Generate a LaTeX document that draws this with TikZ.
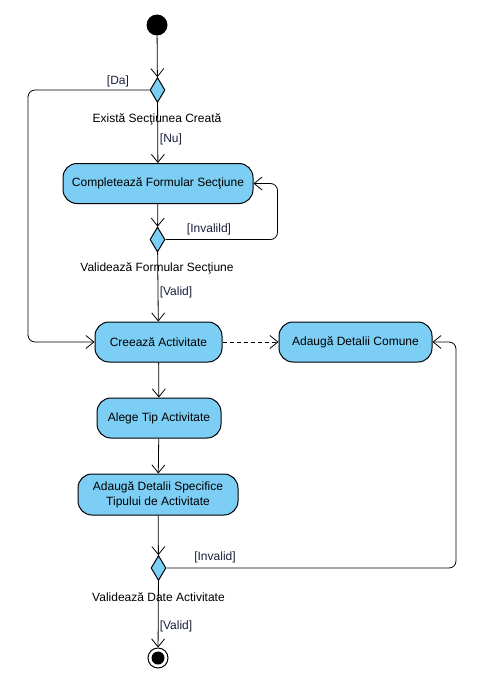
\documentclass[tikz,border=0pt]{standalone}
\usepackage{fontspec}
\setmainfont{Liberation Sans}
\usetikzlibrary{arrows.meta,shapes.geometric}
\definecolor{actfill}{RGB}{125,206,244}
\definecolor{guardcol}{RGB}{25,30,60}
\tikzset{
  act/.style={draw=black, line width=1pt, fill=actfill, rounded corners=14pt, minimum height=40pt, inner sep=0pt, align=center, font=\fontsize{12pt}{15pt}\selectfont},
  dec/.style={draw=black, line width=1pt, fill=actfill, diamond, inner sep=0pt, minimum width=15pt, minimum height=25pt, aspect=0.6},
  flow/.style={line width=0.8pt, -{Straight Barb[length=8pt,width=13pt]}, rounded corners=7pt},
  lbl/.style={font=\fontsize{12pt}{14pt}\selectfont, inner sep=0pt},
  grd/.style={font=\fontsize{12pt}{14pt}\selectfont, inner sep=0pt, text=guardcol},
}
\begin{document}
\begin{tikzpicture}[x=1pt,y=-1pt]
\useasboundingbox (0,0) rectangle (483,682);
% start / end
\node[circle, fill=black, minimum size=21pt, inner sep=0pt] (start) at (157,25) {};
\node[circle, draw=black, line width=1pt, fill=white, minimum size=20pt, inner sep=0pt] (final) at (158,658) {};
\node[circle, fill=black, minimum size=13pt, inner sep=0pt] (finalin) at (158,658) {};
% decisions
\node[dec] (d1) at (157.5,90) {};
\node[dec] (d2) at (157.5,239.5) {};
\node[dec] (d3) at (158.5,568) {};
% activities
\node[act, minimum width=190pt] (a1) at (158,183.5) {Completează Formular Secţiune};
\node[act, minimum width=127pt] (a2) at (158.5,342) {Creează Activitate};
\node[act, minimum width=153pt] (a3) at (355.5,342) {Adaugă Detalii Comune};
\node[act, minimum width=124pt] (a4) at (159,418) {Alege Tip Activitate};
\node[act, minimum width=160pt, minimum height=41pt] (a5) at (158,494.5) {Adaugă Detalii Specifice\\Tipului de Activitate};
% decision labels
\node[lbl] (t1) at (157,119) {Există Secţiunea Creată};
\node[lbl] (t2) at (157,268) {Validează Formular Secţiune};
\node[lbl] (t3) at (158.5,597) {Validează Date Activitate};
% guards
\node[grd] (g1) at (118,81) {[Da]};
\node[grd] (g2) at (171,139) {[Nu]};
\node[grd] (g3) at (209,229) {[Invalild]};
\node[grd] (g4) at (176,292) {[Valid]};
\node[grd] (g5) at (215,557) {[Invalid]};
\node[grd] (g6) at (176,626) {[Valid]};
% flows
\draw[flow] (start) -- (d1);
\draw[flow] (d1) -- (a1);
\draw[flow] (d1.west) -- (28,90) -- (28,342) -- (a2.west);
\draw[flow] (a1) -- (d2);
\draw[flow] (d2.east) -- (277.5,239.5) -- (277.5,183.5) -- (a1.east);
\draw[flow] (d2) -- (a2);
\draw[flow, dashed, dash pattern=on 4pt off 3pt] (a2) -- (a3);
\draw[flow] (a2) -- (a4);
\draw[flow] (a4) -- (a5);
\draw[flow] (a5) -- (d3);
\draw[flow] (d3.east) -- (456,568) -- (456,342) -- (a3.east);
\draw[flow] (d3) -- (final);
\end{tikzpicture}
\end{document}
